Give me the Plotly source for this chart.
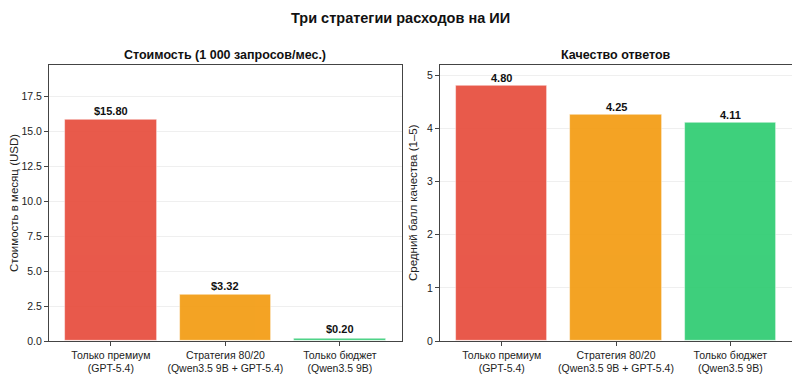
import plotly.graph_objects as go

categories = ["Только премиум<br>(GPT-5.4)",
              "Стратегия 80/20<br>(Qwen3.5 9B + GPT-5.4)",
              "Только бюджет<br>(Qwen3.5 9B)"]
cost_values = [15.80, 3.32, 0.20]
quality_values = [4.80, 4.25, 4.11]
cost_labels = ["$15.80", "$3.32", "$0.20"]
quality_labels = ["4.80", "4.25", "4.11"]
colors = ["#e74c3c", "#f39c12", "#2ecc71"]

FONT = "Liberation Sans, Arial, sans-serif"
x = list(range(len(categories)))

W, H = 800, 376
OFF = 8  # page body margin


def px(v):
    return (v - OFF) / W


def py(v):
    return 1 - (v - OFF) / H


fig = go.Figure()
fig.add_trace(go.Bar(x=x, y=cost_values, width=0.8, marker=dict(color=colors, opacity=0.92,
                     line=dict(color="rgba(255,255,255,0.6)", width=0.8)),
                     xaxis="x", yaxis="y", showlegend=False, hoverinfo="skip"))
fig.add_trace(go.Bar(x=x, y=quality_values, width=0.8, marker=dict(color=colors, opacity=0.92,
                     line=dict(color="rgba(255,255,255,0.6)", width=0.8)),
                     xaxis="x2", yaxis="y2", showlegend=False, hoverinfo="skip"))

annotations = []
for xi, v, t in zip(x, cost_values, cost_labels):
    annotations.append(dict(x=xi, y=v, xref="x", yref="y", text=f"<b>{t}</b>", showarrow=False,
                            xanchor="center", yanchor="bottom", yshift=1,
                            font=dict(size=11, color="#111", family=FONT)))
for xi, v, t in zip(x, quality_values, quality_labels):
    annotations.append(dict(x=xi, y=v, xref="x2", yref="y2", text=f"<b>{t}</b>", showarrow=False,
                            xanchor="center", yanchor="bottom", yshift=0,
                            font=dict(size=11, color="#111", family=FONT)))


def paper_ann(text, xpx, ypx, size, color="#111", angle=0):
    return dict(x=px(xpx), y=py(ypx), xref="paper", yref="paper", text=text, showarrow=False,
                xanchor="center", yanchor="middle", textangle=angle,
                font=dict(size=size, color=color, family=FONT))


annotations.append(paper_ann("<b>Стоимость (1 000 запросов/мес.)</b>", (49 + 401.7) / 2, 55, 12.5))
annotations.append(paper_ann("<b>Качество ответов</b>", (440 + 792) / 2, 55, 12.5))
annotations.append(paper_ann("<b>Три стратегии расходов на ИИ</b>", 400, 18, 14.5))
annotations.append(paper_ann("Стоимость в месяц (USD)", 14, 203, 11.5, "#222", -90))
annotations.append(paper_ann("Средний балл качества (1–5)", 413, 203, 11.5, "#222", -90))

axis_common = dict(showline=True, linecolor="#444", linewidth=1, mirror=True,
                   ticks="outside", ticklen=4, tickcolor="#444", automargin=False,
                   tickfont=dict(size=10.5, color="#222", family=FONT))

ydom = [py(341), py(64.7)]
fig.update_layout(
    width=W, height=H, margin=dict(l=0, r=0, t=0, b=0, autoexpand=False),
    paper_bgcolor="white", plot_bgcolor="white", bargap=0,
    font=dict(family=FONT),
    annotations=annotations,
    xaxis=dict(domain=[px(49), px(401.7)], range=[-0.54, 2.54], tickvals=x, ticktext=categories,
               showgrid=False, zeroline=False, **axis_common),
    yaxis=dict(domain=ydom, range=[0, 19.75], dtick=2.5, tickformat=".1f", showgrid=True,
               gridcolor="#efefef", gridwidth=1, zeroline=False, anchor="x", **axis_common),
    xaxis2=dict(domain=[px(440), px(792)], range=[-0.54, 2.54], tickvals=x, ticktext=categories,
                showgrid=False, zeroline=False, anchor="y2", **axis_common),
    yaxis2=dict(domain=ydom, range=[0, 5.2], dtick=1, showgrid=True,
                gridcolor="#efefef", gridwidth=1, zeroline=False, anchor="x2", **axis_common),
)

fig.write_html("out.html")
